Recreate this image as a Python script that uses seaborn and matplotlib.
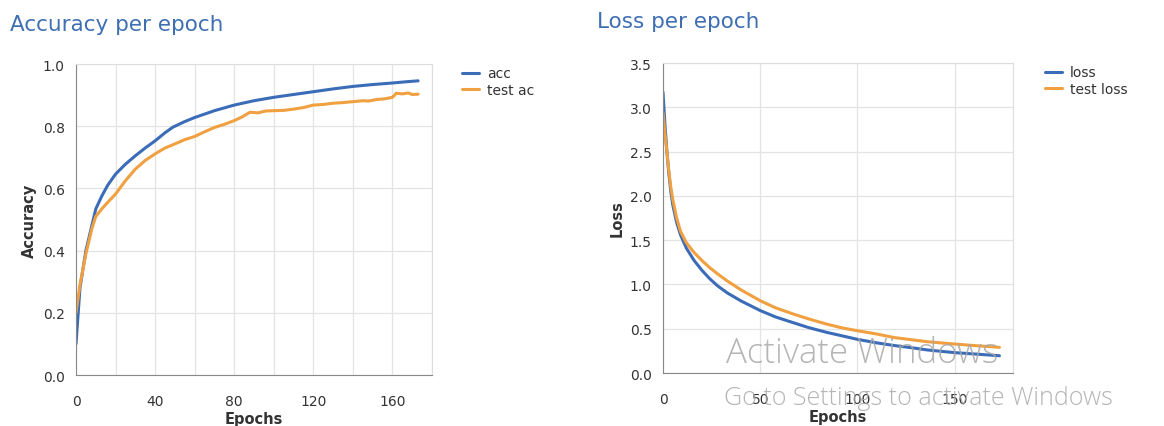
import seaborn as sns
import matplotlib.pyplot as plt
import pandas as pd
from matplotlib.ticker import MultipleLocator

sns.set_style("white")
plt.rcParams['font.family'] = ['DejaVu Sans']

# accuracy per epoch
acc_epochs = [0, 2, 5, 8, 10, 13, 16, 20, 25, 30, 35, 40, 45, 49, 55, 60, 70, 80, 90, 100,
              110, 120, 130, 140, 150, 160, 167, 173]
acc = [0.10, 0.28, 0.40, 0.48, 0.534, 0.575, 0.61, 0.646, 0.678, 0.705, 0.73, 0.753, 0.779,
       0.797, 0.815, 0.828, 0.85, 0.868, 0.882, 0.893, 0.902, 0.911, 0.92, 0.928, 0.934,
       0.939, 0.943, 0.946]
test_epochs = [0, 2, 5, 8, 10, 13, 16, 20, 25, 30, 35, 40, 45, 50, 55, 60, 65, 70, 75, 80,
               84, 88, 92, 96, 100, 105, 110, 115, 120, 125, 130, 135, 140, 145, 148, 152,
               156, 160, 162, 165, 168, 170, 173]
test_acc = [0.20, 0.29, 0.39, 0.47, 0.51, 0.534, 0.555, 0.582, 0.625, 0.662, 0.69, 0.711,
            0.73, 0.743, 0.757, 0.767, 0.782, 0.796, 0.806, 0.818, 0.83, 0.845, 0.843,
            0.849, 0.85, 0.851, 0.855, 0.86, 0.868, 0.87, 0.874, 0.876, 0.879, 0.882,
            0.881, 0.886, 0.888, 0.893, 0.906, 0.904, 0.907, 0.902, 0.903]

# loss per epoch
loss_epochs = [0, 1, 2, 3, 4, 5, 7, 9, 12, 16, 20, 24, 28, 33, 40, 50, 58, 67, 75, 84, 92,
               100, 110, 119, 128, 136, 143, 150, 160, 173]
loss = [3.17, 2.8, 2.5, 2.25, 2.05, 1.9, 1.7, 1.56, 1.41, 1.27, 1.16, 1.065, 0.985, 0.905,
        0.815, 0.705, 0.632, 0.568, 0.512, 0.46, 0.42, 0.38, 0.34, 0.31, 0.285, 0.26, 0.245,
        0.23, 0.215, 0.195]
test_loss = [2.94, 2.7, 2.5, 2.28, 2.1, 1.96, 1.75, 1.6, 1.47, 1.36, 1.27, 1.19, 1.12,
             1.04, 0.94, 0.816, 0.735, 0.666, 0.61, 0.553, 0.51, 0.477, 0.44, 0.40, 0.375,
             0.353, 0.34, 0.327, 0.31, 0.29]

blue = "#3b6cb7"
orange = "#f0a040"
title_col = "#3f6fb3"
txt = "#333333"

df_acc = pd.DataFrame({
    "epoch": acc_epochs + test_epochs,
    "value": acc + test_acc,
    "series": ["acc"] * len(acc) + ["test ac"] * len(test_acc),
})
df_loss = pd.DataFrame({
    "epoch": loss_epochs * 2,
    "value": loss + test_loss,
    "series": ["loss"] * len(loss) + ["test loss"] * len(test_loss),
})

fig = plt.figure(figsize=(11.64, 4.27), dpi=100)
ax1 = fig.add_axes([0.0653, 0.1194, 0.3058, 0.7283])
ax2 = fig.add_axes([0.5696, 0.1241, 0.3007, 0.726])


def style_axes(ax, ylabel):
    ax.set_xlim(0, 180)
    ax.grid(True, which="both", color="#e3e3e3", linewidth=0.9)
    ax.set_axisbelow(True)
    for s in ["top", "right"]:
        ax.spines[s].set_color("#dddddd")
    for s in ["left", "bottom"]:
        ax.spines[s].set_color("#888888")
    ax.tick_params(which="both", direction="out", length=5, color="#888888",
                   labelsize=10, labelcolor=txt, pad=9)
    ax.tick_params(axis="y", pad=3)
    ax.set_xlabel("Epochs", fontsize=10.5, fontweight="bold", color=txt, labelpad=2)
    ax.set_ylabel(ylabel, fontsize=10.5, fontweight="bold", color=txt, labelpad=4)


sns.lineplot(data=df_acc, x="epoch", y="value", hue="series",
             palette=[blue, orange], linewidth=2.2, ax=ax1)
style_axes(ax1, "Accuracy")
ax1.set_ylim(0, 1.0)
ax1.yaxis.set_major_locator(MultipleLocator(0.2))
ax1.xaxis.set_major_locator(MultipleLocator(40))
ax1.xaxis.set_minor_locator(MultipleLocator(20))
ax1.legend(loc="upper left", bbox_to_anchor=(1.07, 1.01), frameon=False,
           fontsize=10, handlelength=1.2, handletextpad=0.6, labelspacing=0.15,
           borderaxespad=0)

sns.lineplot(data=df_loss, x="epoch", y="value", hue="series",
             palette=[blue, orange], linewidth=2.2, ax=ax2)
style_axes(ax2, "Loss")
ax2.set_ylim(0, 3.5)
ax2.yaxis.set_major_locator(MultipleLocator(0.5))
ax2.xaxis.set_major_locator(MultipleLocator(50))
ax2.legend(loc="upper left", bbox_to_anchor=(1.075, 1.01), frameon=False,
           fontsize=10, handlelength=1.2, handletextpad=0.6, labelspacing=0.15,
           borderaxespad=0)

for lg in [ax1.get_legend(), ax2.get_legend()]:
    for t in lg.get_texts():
        t.set_color(txt)

fig.text(10 / 1164, 1 - 25 / 427, "Accuracy per epoch", fontsize=15.5, color=title_col,
         va="center", ha="left")
fig.text(597 / 1164, 1 - 22 / 427, "Loss per epoch", fontsize=15.5, color=title_col,
         va="center", ha="left")

# screenshot overlay text
fig.text(726 / 1164, 1 - 363 / 427, "Activate Windows", fontsize=25, color="#a8a8a8",
         alpha=0.85, va="baseline", ha="left", fontweight="light",
         family=["Open Sans", "DejaVu Sans"])
fig.text(724 / 1164, 1 - 405 / 427, "Go to Settings to activate Windows", fontsize=18,
         color="#a8a8a8", alpha=0.85, va="baseline", ha="left", fontweight="light",
         family=["Open Sans", "DejaVu Sans"])

fig.savefig("out.png", dpi=100)
